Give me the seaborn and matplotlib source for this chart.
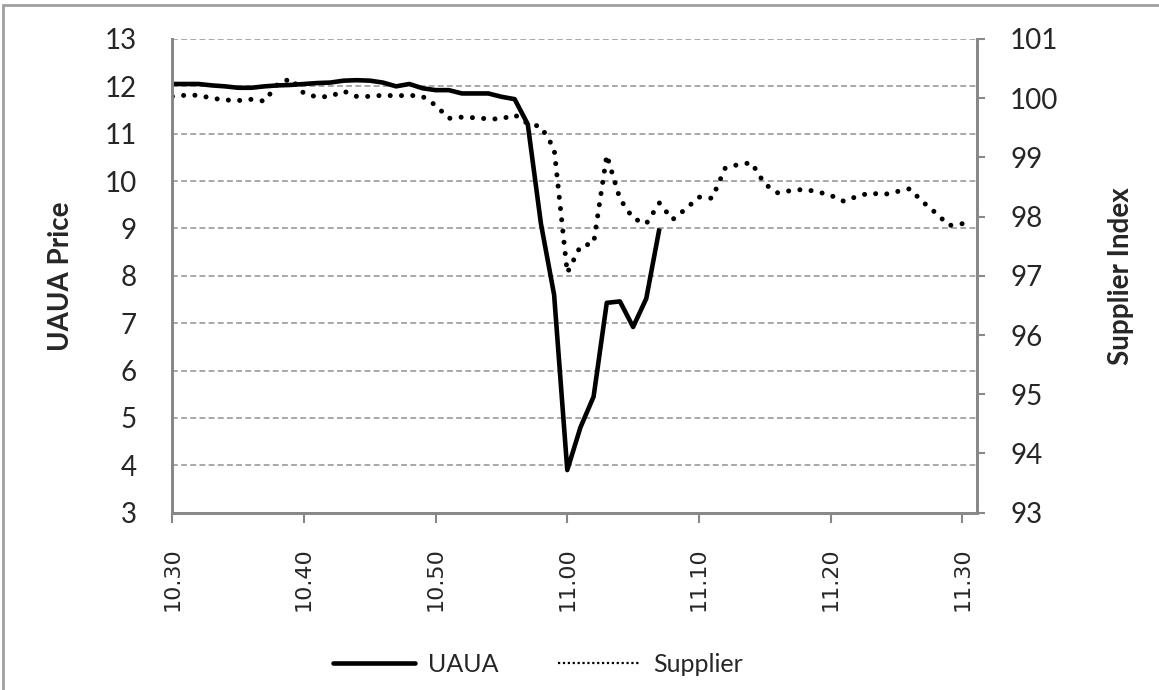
import matplotlib
matplotlib.use("Agg")
import matplotlib.pyplot as plt
import numpy as np
import pandas as pd
import seaborn as sns
from matplotlib.lines import Line2D
from matplotlib.patches import Rectangle

# minutes after 10:30
uaua_minutes = list(range(38))
uaua_price = [
    12.05, 12.05, 12.05, 12.02, 12.00, 11.97, 11.97, 12.00, 12.02, 12.03,
    12.05, 12.07, 12.08, 12.12, 12.13, 12.12, 12.08, 12.00, 12.05, 11.96,
    11.92, 11.92, 11.85, 11.85, 11.85, 11.78, 11.73, 11.20, 9.10, 7.60,
    3.90, 4.80, 5.45, 7.43, 7.46, 6.92, 7.52, 9.00,
]

supplier_minutes = list(range(61))
supplier_index = [
    100.03, 100.05, 100.05, 100.00, 99.97, 99.96, 99.98, 99.95, 100.24, 100.33,
    100.08, 100.02, 100.03, 100.12, 100.03, 100.03, 100.05, 100.04, 100.05, 100.03,
    99.88, 99.66, 99.68, 99.67, 99.65, 99.65, 99.72, 99.57, 99.52, 99.15,
    97.05, 97.50, 97.55, 99.04, 98.30, 97.97, 97.88, 98.23, 97.95, 98.13,
    98.33, 98.31, 98.82, 98.88, 98.91, 98.55, 98.40, 98.44, 98.46, 98.42,
    98.36, 98.26, 98.34, 98.40, 98.37, 98.42, 98.47, 98.25, 98.06, 97.85,
    97.88,
]

tick_minutes = [0, 10, 20, 30, 40, 50, 60]
tick_labels = ["10.30", "10.40", "10.50", "11.00", "11.10", "11.20", "11.30"]

uaua_df = pd.DataFrame({"minute": uaua_minutes, "price": uaua_price})
supp_df = pd.DataFrame({"minute": supplier_minutes, "index": supplier_index})

sns.set_style("white")
plt.rcParams["font.family"] = ["Lato", "DejaVu Sans"]

grey = "#888888"

fig = plt.figure(figsize=(11.59, 6.9), dpi=100)
ax = fig.add_axes([0.1487, 0.2570, 0.694, 0.6865])
ax2 = ax.twinx()

sns.lineplot(data=uaua_df, x="minute", y="price", ax=ax, color="black",
             linewidth=3.3, legend=False)
sns.lineplot(data=supp_df, x="minute", y="index", ax=ax2, color="black",
             linewidth=3.6, linestyle=(0, (0.01, 2.25)), legend=False)
ax2.lines[0].set_dash_capstyle("round")
ax.lines[0].set_solid_capstyle("butt")

ax.set_xlim(0, 61.1)
ax.set_ylim(3, 13)
ax2.set_ylim(93, 101)
ax.set_yticks(range(3, 14))
ax2.set_yticks(range(93, 102))

ax.set_xticks(tick_minutes)
ax.set_xticklabels(tick_labels, rotation=90, fontsize=16, family="DejaVu Sans")

# dashed horizontal gridlines
ax.grid(axis="y", color="#999999", linestyle=(0, (3.5, 2)), linewidth=1.2)
ax.grid(axis="x", visible=False)
ax.set_axisbelow(True)

for a in (ax, ax2):
    for side in ("left", "right", "bottom"):
        a.spines[side].set_color(grey)
        a.spines[side].set_linewidth(2)
    a.spines["top"].set_visible(False)

ax.tick_params(axis="y", which="both", left=False, labelsize=20, pad=22)
ax.tick_params(axis="x", bottom=True, length=7, width=1.5, color=grey, pad=18)
ax2.tick_params(axis="y", right=True, length=6, width=1.5, color=grey,
                labelsize=20, pad=18)

ax.set_xlabel("")
ax.set_ylabel("UAUA Price", fontsize=20, fontweight="bold", labelpad=22)
ax2.set_ylabel("Supplier Index", fontsize=20, fontweight="bold", labelpad=36)

# legend handles drawn like the original (thin dotted sample for Supplier)
handles = [
    Line2D([], [], color="black", linewidth=3.3),
    Line2D([], [], color="black", linewidth=1.6, linestyle=(0, (1, 1.2))),
]
fig.legend(handles, ["UAUA", "Supplier"], loc="center", ncol=2,
           bbox_to_anchor=(0.464, 0.037), frameon=False, fontsize=18,
           handlelength=3.3, handletextpad=0.5, columnspacing=2.4)

# outer frame of the figure
fig.patches.append(Rectangle((0.003, -0.05), 1.2, 1.043, transform=fig.transFigure,
                             fill=False, edgecolor="#a0a0a0", linewidth=2))

fig.savefig("out.png", dpi=100)
